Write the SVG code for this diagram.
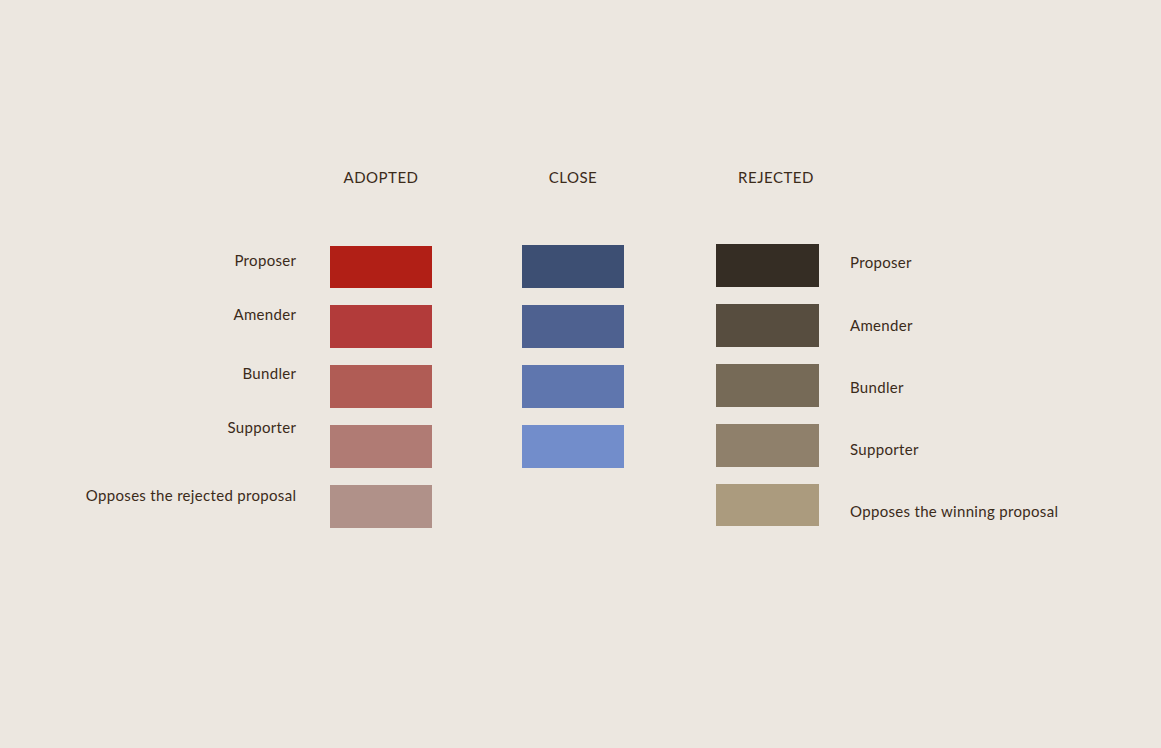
<svg xmlns="http://www.w3.org/2000/svg" width="1161" height="748" viewBox="0 0 1161 748">
<style>
text{font-family:Lato,"Noto Sans",sans-serif;font-size:15px;fill:#3b2b1a;letter-spacing:0.32px}
.h{text-anchor:middle;letter-spacing:0.5px}
.l{text-anchor:end}
</style>
<rect width="1161" height="748" fill="#ece7e0"/>
<g id="headers">
<text class="h" x="381" y="183">ADOPTED</text>
<text class="h" x="573" y="183">CLOSE</text>
<text class="h" x="776" y="183">REJECTED</text>
</g>
<g id="adopted">
<rect x="330" y="246" width="102" height="42" fill="#b11f16"/>
<rect x="330" y="305" width="102" height="43" fill="#b23b3a"/>
<rect x="330" y="365" width="102" height="43" fill="#b05c55"/>
<rect x="330" y="425" width="102" height="43" fill="#b07b74"/>
<rect x="330" y="485" width="102" height="43" fill="#b09189"/>
<text class="l" x="296.3" y="266">Proposer</text>
<text class="l" x="296.3" y="320">Amender</text>
<text class="l" x="296.3" y="379">Bundler</text>
<text class="l" x="296.3" y="433">Supporter</text>
<text class="l" x="296.3" y="501">Opposes the rejected proposal</text>
</g>
<g id="close">
<rect x="522" y="245" width="102" height="43" fill="#3d4f73"/>
<rect x="522" y="305" width="102" height="43" fill="#4e6190"/>
<rect x="522" y="365" width="102" height="43" fill="#5f76ae"/>
<rect x="522" y="425" width="102" height="43" fill="#728dcb"/>
</g>
<g id="rejected">
<rect x="716" y="244" width="103" height="43" fill="#352d24"/>
<rect x="716" y="304" width="103" height="43" fill="#574d3f"/>
<rect x="716" y="364" width="103" height="43" fill="#766a57"/>
<rect x="716" y="424" width="103" height="43" fill="#8f806b"/>
<rect x="716" y="484" width="103" height="42" fill="#ab9b7e"/>
<text x="850" y="268">Proposer</text>
<text x="850" y="331">Amender</text>
<text x="850" y="393">Bundler</text>
<text x="850" y="455">Supporter</text>
<text x="850" y="517">Opposes the winning proposal</text>
</g>
</svg>
